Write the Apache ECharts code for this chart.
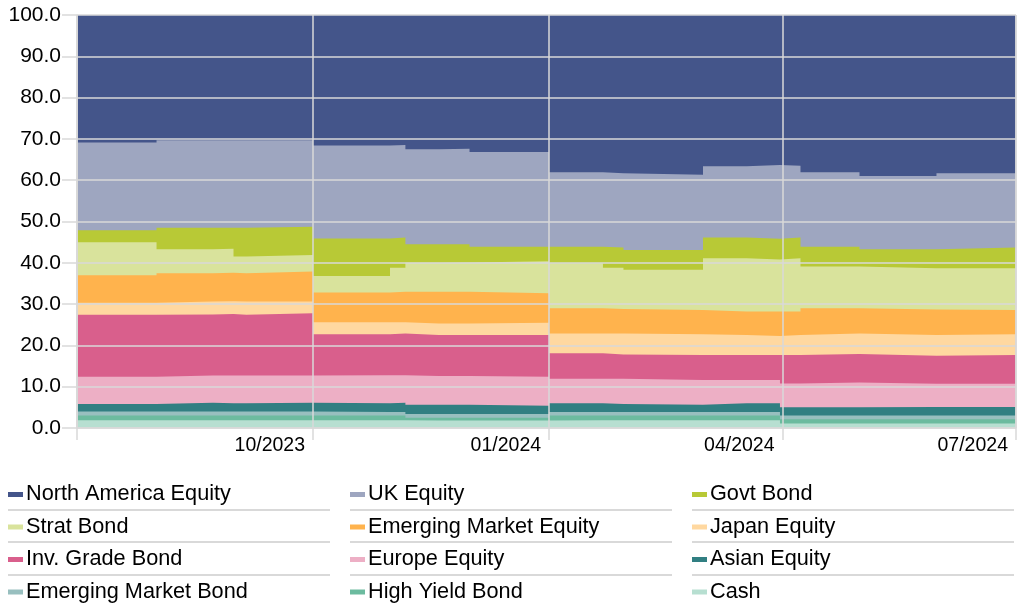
<!DOCTYPE html>
<html>
<head>
<meta charset="utf-8">
<script src="https://cdn.jsdelivr.net/npm/echarts@6/dist/echarts.min.js"></script>
<style>
  html, body { margin: 0; padding: 0; background: #fff; }
  #chart { width: 1018px; height: 604px; }
</style>
</head>
<body>
<div id="chart"></div>
<script>
// dates where the allocation changes (each value holds until the next date)
var startDate = '2023-07-01';
var endDate = '2024-07-01';
var dates = ['2023-07-01', '2023-08-01', '2023-08-23', '2023-08-31', '2023-09-05',
             '2023-10-01', '2023-10-31', '2023-11-06', '2023-11-19', '2023-12-01',
             '2024-01-01', '2024-01-22', '2024-01-30', '2024-03-01', '2024-03-18',
             '2024-03-31', '2024-04-08', '2024-05-01', '2024-05-31'];

// weights in %, bottom of the stack first
var cash   = [1.9, 1.9, 1.9, 1.9, 1.9, 1.9, 1.9, 1.8, 1.8, 1.8, 1.9, 1.9, 1.9, 1.9, 1.9, 1.1, 1.1, 1.1, 1.1];
var hyBond = [1.1, 1.1, 1.1, 1.1, 1.1, 1.1, 1.1, 0.7, 0.7, 0.7, 1.1, 1.1, 1.1, 1.1, 1.1, 1.0, 1.0, 1.0, 1.0];
var emBond = [1.0, 1.0, 1.0, 1.0, 1.0, 0.9, 0.9, 0.9, 0.9, 0.9, 0.9, 0.9, 0.9, 0.9, 0.9, 0.9, 0.9, 0.9, 0.9];
var asian  = [1.8, 2.1, 2.0, 2.0, 2.1, 2.1, 2.2, 2.2, 2.2, 2.0, 2.1, 1.9, 1.7, 2.1, 2.1, 2.0, 2.0, 2.1, 2.1];
var europe = [6.6, 6.6, 6.7, 6.7, 6.6, 6.8, 6.7, 7.0, 7.0, 7.0, 5.9, 6.1, 6.0, 5.6, 5.6, 5.8, 6.0, 5.6, 5.6];
var igBond = [15.0, 14.8, 14.9, 14.7, 15.1, 9.9, 10.1, 9.9, 9.9, 10.1, 6.2, 5.9, 6.1, 6.1, 6.1, 6.9, 6.9, 6.8, 7.0];
var japan  = [2.9, 3.1, 3.1, 3.2, 2.8, 2.9, 2.7, 2.8, 2.8, 3.0, 4.8, 5.1, 5.0, 4.8, 4.6, 4.8, 5.0, 5.0, 5.0];
var emEq   = [6.7, 6.9, 6.9, 6.9, 7.3, 7.2, 7.4, 7.7, 7.7, 7.1, 6.1, 5.9, 5.9, 5.7, 5.9, 5.7, 6.1, 6.2, 5.9];
var strat  = [8.0, 5.8, 5.8, 4.0, 4.0, 4.0, 5.8, 7.0, 7.1, 7.8, 10.9, 10.0, 9.7, 12.9, 12.6, 12.9, 10.1, 10.0, 10.1];
var govt   = [2.9, 5.2, 5.1, 7.0, 6.8, 9.1, 7.3, 4.5, 4.4, 3.5, 4.0, 4.9, 4.8, 5.0, 5.0, 5.0, 4.8, 4.6, 5.0];
var ukEq   = [21.2, 21.2, 21.2, 21.2, 21.0, 22.5, 22.4, 23.0, 23.1, 22.9, 18.0, 18.0, 18.2, 17.3, 17.9, 17.4, 18.0, 17.7, 18.0];
var naEq   = [30.9, 30.3, 30.3, 30.3, 30.3, 31.6, 31.5, 32.5, 32.4, 33.2, 38.1, 38.3, 38.7, 36.6, 36.3, 36.5, 38.1, 39.0, 38.3];

var seriesDefs = [
    ['Cash', cash, '#b7dfd1'],
    ['High Yield Bond', hyBond, '#6cbb9f'],
    ['Emerging Market Bond', emBond, '#98bfbf'],
    ['Asian Equity', asian, '#317f82'],
    ['Europe Equity', europe, '#edafc5'],
    ['Inv. Grade Bond', igBond, '#d95f8c'],
    ['Japan Equity', japan, '#ffd8a0'],
    ['Emerging Market Equity', emEq, '#ffb34d'],
    ['Strat Bond', strat, '#d9e39c'],
    ['Govt Bond', govt, '#b8c936'],
    ['UK Equity', ukEq, '#9ea6c0'],
    ['North America Equity', naEq, '#44558a']
];

// running totals: each band is drawn as an area from 0 up to its cumulative top,
// top band first so lower bands paint over it (avoids seams of stepped stacks)
var running = dates.map(function () { return 0; });
var series = seriesDefs.map(function (s) {
    running = running.map(function (r, i) { return Math.round((r + s[1][i]) * 100) / 100; });
    var pts = dates.map(function (d, i) { return [d, running[i]]; });
    // hold the last value up to the end of the axis
    pts.push([endDate, running[running.length - 1]]);
    return {
        name: s[0],
        type: 'line',
        step: 'end',
        symbol: 'none',
        lineStyle: { width: 0 },
        itemStyle: { color: s[2] },
        areaStyle: { color: s[2], opacity: 1, origin: 'start' },
        data: pts
    };
}).reverse();

var gridCol = '#d9d9d9';
var font = 'Liberation Sans, Arial, sans-serif';

// legend: 3 columns, 4 rows, top of stack first
var legendCols = [
    ['North America Equity', 'Strat Bond', 'Inv. Grade Bond', 'Emerging Market Bond'],
    ['UK Equity', 'Emerging Market Equity', 'Europe Equity', 'High Yield Bond'],
    ['Govt Bond', 'Japan Equity', 'Asian Equity', 'Cash']
];
var legendX = [8, 350, 692];

var legends = legendCols.map(function (names, i) {
    return {
        orient: 'vertical',
        left: legendX[i],
        top: 483.5,
        padding: 0,
        itemGap: 10.5,
        itemWidth: 15,
        itemHeight: 5,
        icon: 'rect',
        selectedMode: false,
        data: names,
        textStyle: {
            fontFamily: font,
            fontSize: 21.7,
            lineHeight: 22,
            color: '#000',
            padding: [0, 0, 0, -2]
        }
    };
});

var sepLines = [];
[510, 542, 575].forEach(function (y) {
    legendX.forEach(function (x) {
        sepLines.push({
            type: 'line',
            shape: { x1: x, y1: y, x2: x + 322, y2: y },
            style: { stroke: gridCol, lineWidth: 2 }
        });
    });
});

function monthLabel(v) {
    var d = new Date(v);
    var m = d.getMonth() + 1;
    if (d.getFullYear() === 2023 && m === 7) return '';
    return (m < 10 ? '0' + m : '' + m) + '/' + d.getFullYear();
}

var myChart = echarts.init(document.getElementById('chart'));
var option = {
    animation: false,
    backgroundColor: '#fff',
    grid: { left: 77, right: 2, top: 15, bottom: 176 },
    legend: legends,
    graphic: sepLines,
    xAxis: {
        type: 'time',
        min: startDate,
        max: endDate,
        splitNumber: 4,
        minInterval: 90 * 86400000,
        maxInterval: 92 * 86400000,
        z: 5,
        axisLine: { show: true, lineStyle: { color: gridCol, width: 1.5 } },
        axisTick: { show: true, length: 12, lineStyle: { color: gridCol, width: 1.5 } },
        splitLine: { show: true, lineStyle: { color: gridCol, width: 1.5 } },
        axisLabel: {
            fontFamily: font,
            fontSize: 19.5,
            fontWeight: 'normal',
            color: '#000',
            align: 'right',
            margin: 8,
            padding: [0, 8, 0, 0],
            showMinLabel: false,
            formatter: monthLabel
        }
    },
    yAxis: {
        type: 'value',
        min: 0,
        max: 100,
        interval: 10,
        z: 5,
        axisLine: { show: true, lineStyle: { color: gridCol, width: 1.5 } },
        axisTick: { show: true, length: 15, lineStyle: { color: gridCol, width: 1.5 } },
        splitLine: { show: true, lineStyle: { color: gridCol, width: 1.5 } },
        axisLabel: {
            fontFamily: font,
            fontSize: 21,
            color: '#000',
            margin: 16,
            formatter: function (v) { return v.toFixed(1); }
        }
    },
    series: series
};

myChart.setOption(option);
</script>
</body>
</html>
